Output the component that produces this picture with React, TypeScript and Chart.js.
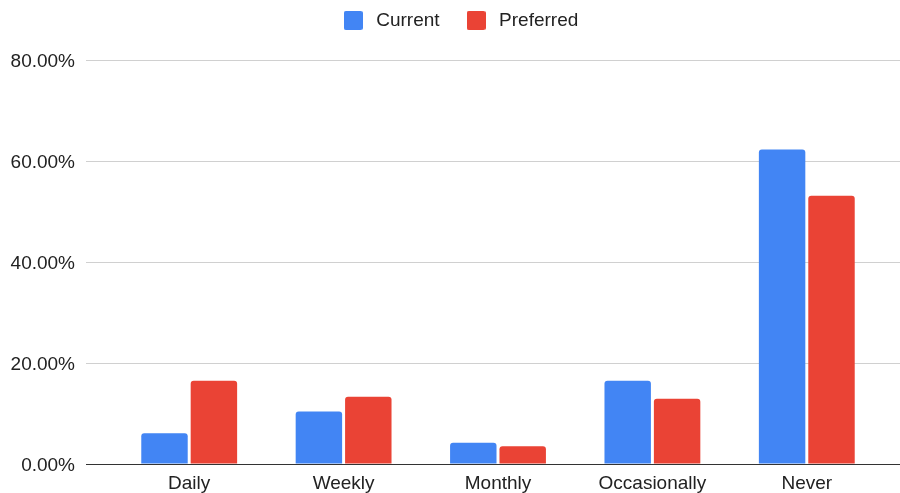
import React, { useEffect, useRef } from "react";
import { Chart, registerables } from "chart.js";

Chart.register(...registerables);

const categories = ["Daily", "Weekly", "Monthly", "Occasionally", "Never"];
const currentValues = [6.1, 10.4, 4.2, 16.5, 62.3];
const preferredValues = [16.5, 13.3, 3.5, 12.9, 53.1];
const yTicks = [0, 20, 40, 60, 80];

const FONT = "Arial, 'Liberation Sans', sans-serif";

function makeSwatch(color: string) {
  const c = document.createElement("canvas");
  c.width = 19;
  c.height = 19;
  const ctx = c.getContext("2d")!;
  ctx.fillStyle = color;
  ctx.beginPath();
  const r = 2;
  ctx.moveTo(r, 0);
  ctx.lineTo(19 - r, 0);
  ctx.quadraticCurveTo(19, 0, 19, r);
  ctx.lineTo(19, 19 - r);
  ctx.quadraticCurveTo(19, 19, 19 - r, 19);
  ctx.lineTo(r, 19);
  ctx.quadraticCurveTo(0, 19, 0, 19 - r);
  ctx.lineTo(0, r);
  ctx.quadraticCurveTo(0, 0, r, 0);
  ctx.closePath();
  ctx.fill();
  return c;
}

export default function App() {
  const ref = useRef<HTMLCanvasElement | null>(null);

  useEffect(() => {
    document.body.style.margin = "0";
    const canvas = ref.current;
    if (!canvas) return;

    const customPlugin = {
      id: "custom",
      beforeInit(chart: any) {
        const legend = chart.legend;
        if (legend) {
          const origFit = legend.fit;
          legend.fit = function () {
            origFit.call(this);
            this.height = 60;
          };
          const origDraw = legend.draw;
          legend.draw = function () {
            const ctx = this.ctx;
            ctx.save();
            ctx.translate(17, -12);
            origDraw.call(this);
            ctx.restore();
          };
        }
      },
      beforeDatasetsDraw(chart: any) {
        const { ctx, scales } = chart;
        const y = scales.y;
        ctx.save();
        ctx.strokeStyle = "#d0d0d0";
        ctx.lineWidth = 1;
        yTicks.forEach((t) => {
          if (t === 0) return;
          const py = Math.round(y.getPixelForValue(t)) + 0.5;
          ctx.beginPath();
          ctx.moveTo(86, py);
          ctx.lineTo(chart.width, py);
          ctx.stroke();
        });
        ctx.restore();
      },
      afterDatasetsDraw(chart: any) {
        const { ctx, scales } = chart;
        const y = scales.y;
        const py = Math.round(y.getPixelForValue(0)) + 0.5;
        ctx.save();
        ctx.strokeStyle = "#333333";
        ctx.lineWidth = 1;
        ctx.beginPath();
        ctx.moveTo(86, py);
        ctx.lineTo(chart.width, py);
        ctx.stroke();
        ctx.restore();
      },
    };

    const chart = new Chart(canvas, {
      type: "bar",
      data: {
        labels: categories,
        datasets: [
          {
            label: "Current",
            data: currentValues,
            backgroundColor: "#4285F4",
            pointStyle: makeSwatch("#4285F4"),
            borderRadius: 3,
            categoryPercentage: 0.64,
            barPercentage: 0.94,
          },
          {
            label: "Preferred",
            data: preferredValues,
            backgroundColor: "#EA4335",
            pointStyle: makeSwatch("#EA4335"),
            borderRadius: 3,
            categoryPercentage: 0.64,
            barPercentage: 0.94,
          },
        ],
      },
      options: {
        animation: false,
        responsive: false,
        maintainAspectRatio: false,
        layout: { padding: { left: 0, right: 16, top: 0, bottom: 0 } },
        plugins: {
          legend: {
            position: "top",
            labels: {
              usePointStyle: true,
              pointStyleWidth: 27,
              boxWidth: 27,
              boxHeight: 19,
              padding: 23,
              color: "#222222",
              font: { family: FONT, size: 19 },
            },
          },
          tooltip: { enabled: false },
        },
        scales: {
          x: {
            grid: { display: false, drawTicks: false },
            border: { display: false },
            ticks: {
              color: "#222222",
              font: { family: FONT, size: 19 },
              padding: 8,
              maxRotation: 0,
            },
            afterFit(scale: any) {
              scale.height = 29;
            },
          },
          y: {
            min: 0,
            max: 80,
            grid: {
              display: true,
              drawOnChartArea: false,
              drawTicks: true,
              tickLength: 37,
              color: "rgba(0,0,0,0)",
            },
            border: { display: false },
            ticks: {
              stepSize: 20,
              color: "#222222",
              font: { family: FONT, size: 19 },
              padding: 0,
              labelOffset: 2,
              callback: (v: any) => Number(v).toFixed(2) + "%",
            },
            afterFit(scale: any) {
              scale.width = 112;
            },
          },
        },
      },
      plugins: [customPlugin],
    } as any);

    return () => chart.destroy();
  }, []);

  return (
    <div style={{ position: "fixed", left: 0, top: 0, width: 900, height: 493 }}>
      <canvas ref={ref} width={900} height={493} style={{ width: 900, height: 493, display: "block" }} />
    </div>
  );
}
